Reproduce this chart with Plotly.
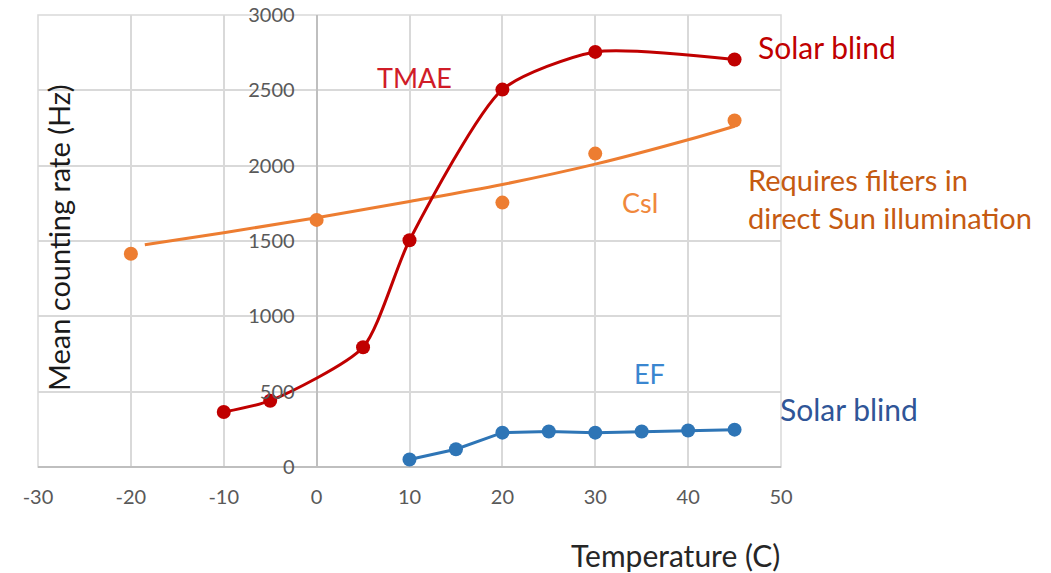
import plotly.graph_objects as go

# Mean counting rate vs temperature for three photocathode options
tmae_temp = [-10, -5, 5, 10, 20, 30, 45]
tmae_rate = [365, 440, 795, 1505, 2505, 2755, 2705]

csi_temp = [-20, 0, 20, 30, 45]
csi_rate = [1415, 1640, 1755, 2080, 2300]

# smooth trend curve drawn through the CsI cloud
csi_trend_temp = [-18.5, -10, 0, 10, 20, 30, 40, 45]
csi_trend_rate = [1475, 1555, 1655, 1762, 1875, 2010, 2172, 2262]

ef_temp = [10, 15, 20, 25, 30, 35, 40, 45]
ef_rate = [50, 118, 228, 236, 228, 236, 242, 248]

x_ticks = [-30, -20, -10, 0, 10, 20, 30, 40, 50]
y_ticks = [0, 500, 1000, 1500, 2000, 2500, 3000]

W, H = 1051, 573
L, R, T, B = 38, 270, 15, 106
PW, PH = W - L - R, H - T - B

RED = "#c00000"
ORANGE = "#ed7d31"
BLUE = "#2e75b6"
FONT = "Lato, 'Open Sans', sans-serif"


def px(xp):
    return (xp - L) / PW


def py(yp):
    return (H - B - yp) / PH


fig = go.Figure()

fig.add_trace(go.Scatter(
    x=csi_trend_temp, y=csi_trend_rate, mode="lines",
    line=dict(color=ORANGE, width=3, shape="spline", smoothing=1.0),
    hoverinfo="skip", showlegend=False))
fig.add_trace(go.Scatter(
    x=csi_temp, y=csi_rate, mode="markers",
    marker=dict(color=ORANGE, size=14), showlegend=False, name="CsI"))
fig.add_trace(go.Scatter(
    x=tmae_temp, y=tmae_rate, mode="lines+markers",
    line=dict(color=RED, width=3, shape="spline", smoothing=0.65),
    marker=dict(color=RED, size=14), showlegend=False, name="TMAE"))
fig.add_trace(go.Scatter(
    x=ef_temp, y=ef_rate, mode="lines+markers",
    line=dict(color=BLUE, width=3),
    marker=dict(color=BLUE, size=14), showlegend=False, name="EF"))

annotations = [
    dict(text="TMAE", x=px(414), y=py(77), font=dict(size=27, color="#d01c28"),
         xanchor="center", yanchor="middle"),
    dict(text="Solar blind", x=px(756), y=py(47), font=dict(size=30, color=RED),
         xanchor="left", yanchor="middle"),
    dict(text="CsI", x=px(640), y=py(202), font=dict(size=27, color="#f0883c"),
         xanchor="center", yanchor="middle"),
    dict(text="Requires filters in<br>direct Sun illumination", x=px(746), y=py(198),
         font=dict(size=29, color="#c55a11"), xanchor="left", yanchor="middle",
         align="left"),
    dict(text="EF", x=px(649), y=py(373), font=dict(size=27, color="#3a86d0"),
         xanchor="center", yanchor="middle"),
    dict(text="Solar blind", x=px(778), y=py(409), font=dict(size=30, color="#2f5597"),
         xanchor="left", yanchor="middle"),
    dict(text="Temperature (C)", x=px(675), y=py(555), font=dict(size=30, color="#262626"),
         xanchor="center", yanchor="middle"),
    dict(text="Mean counting rate (Hz)", x=px(58), y=py(238), textangle=-90,
         font=dict(size=29, color="#1a1a1a"), xanchor="center", yanchor="middle"),
]
for a in annotations:
    a.update(xref="paper", yref="paper", showarrow=False)

fig.update_layout(
    width=W, height=H,
    margin=dict(l=L, r=R, t=T, b=B, pad=0, autoexpand=False),
    paper_bgcolor="white", plot_bgcolor="white",
    font=dict(family=FONT),
    annotations=annotations,
    shapes=[dict(type="rect", xref="paper", yref="paper", x0=0, x1=1, y0=0, y1=1,
                 line=dict(color="#d9d9d9", width=1.5), layer="below")],
    xaxis=dict(
        range=[-30, 50], tickvals=x_ticks, ticktext=[str(v) for v in x_ticks],
        showgrid=True, gridcolor="#d9d9d9", gridwidth=1.5,
        zeroline=True, zerolinecolor="#bfbfbf", zerolinewidth=1.5,
        showline=False, ticks="", ticklabelstandoff=16, automargin=False,
        tickfont=dict(size=20, color="#595959", family=FONT),
    ),
    yaxis=dict(
        range=[0, 3000], tickvals=y_ticks, ticktext=[str(v) for v in y_ticks],
        anchor="free", position=0.375,
        showgrid=True, gridcolor="#d9d9d9", gridwidth=1.5,
        zeroline=True, zerolinecolor="#bfbfbf", zerolinewidth=1.5,
        showline=False, ticks="", ticklabelstandoff=22, automargin=False,
        tickfont=dict(size=20, color="#595959", family=FONT),
    ),
)

fig.write_html("out.html")
